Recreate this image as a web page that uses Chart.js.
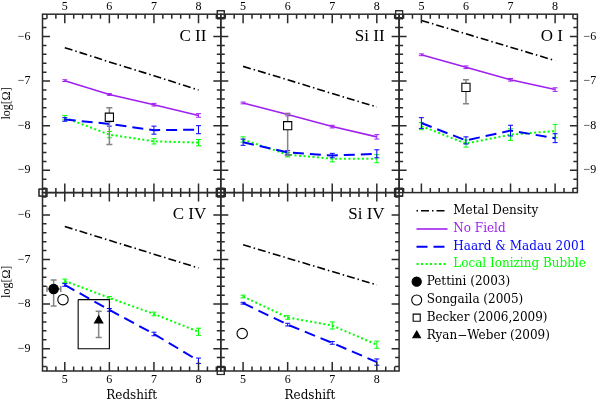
<!DOCTYPE html>
<html>
<head>
<meta charset="utf-8">
<title>Ion densities versus redshift</title>
<script src="https://cdn.jsdelivr.net/npm/chart.js@4.4.1/dist/chart.umd.min.js"></script>
<style>
  html, body { margin: 0; padding: 0; background: #ffffff; overflow: hidden; }
  #wrap { position: relative; width: 601px; height: 401px; background: #ffffff; }
  #wrap canvas { position: absolute; left: 0; top: 0; }
</style>
</head>
<body>
<div id="wrap">
  <canvas id="pCII" width="601" height="401"></canvas>
  <canvas id="pSiII" width="601" height="401"></canvas>
  <canvas id="pOI" width="601" height="401"></canvas>
  <canvas id="pCIV" width="601" height="401"></canvas>
  <canvas id="pSiIV" width="601" height="401"></canvas>
</div>
<script>
// ---------------- data ----------------
const redshift = [5, 6, 7, 8];
const xTickValues = [5, 6, 7, 8];
const xTickLabels = ['5', '6', '7', '8'];
const yTickValues = [-9, -8, -7, -6];
const yTickLabels = ['−9', '−8', '−7', '−6'];
const ionLabels = ['C II', 'Si II', 'O I', 'C IV', 'Si IV'];
const modelLabels = ['Metal Density', 'No Field', 'Haard & Madau 2001', 'Local Ionizing Bubble'];
const observationLabels = ['Pettini (2003)', 'Songaila (2005)', 'Becker (2006,2009)', 'Ryan−Weber (2009)'];

// C II
const metalCII = [-6.25, -6.57, -6.88, -7.20];
const noFieldCII = [-6.99, -7.30, -7.53, -7.77];
const noFieldErrCII = [0.02, 0.02, 0.03, 0.04];
const haardtCII = [-7.86, -7.96, -8.10, -8.09];
const haardtErrCII = [0.04, 0.05, 0.09, 0.09];
const bubbleCII = [-7.82, -8.20, -8.35, -8.38];
const bubbleErrCII = [0.05, 0.07, 0.06, 0.07];
// Si II
const metalSiII = [-6.67, -6.97, -7.28, -7.58];
const noFieldSiII = [-7.49, -7.75, -8.02, -8.25];
const noFieldErrSiII = [0.02, 0.03, 0.03, 0.05];
const haardtSiII = [-8.37, -8.60, -8.67, -8.63];
const haardtErrSiII = [0.07, 0.04, 0.05, 0.09];
const bubbleSiII = [-8.31, -8.65, -8.74, -8.74];
const bubbleErrSiII = [0.06, 0.05, 0.07, 0.09];
// O I
const metalOI = [-5.64, -5.94, -6.24, -6.54];
const noFieldOI = [-6.41, -6.69, -6.97, -7.19];
const noFieldErrOI = [0.02, 0.03, 0.03, 0.04];
const haardtOI = [-7.94, -8.33, -8.11, -8.28];
const haardtErrOI = [0.12, 0.08, 0.12, 0.10];
const bubbleOI = [-8.01, -8.40, -8.20, -8.12];
const bubbleErrOI = [0.08, 0.08, 0.13, 0.15];
// C IV
const metalCIV = [-6.26, -6.57, -6.88, -7.19];
const haardtCIV = [-7.57, -8.13, -8.67, -9.27];
const haardtErrCIV = [0.03, 0.03, 0.04, 0.06];
const bubbleCIV = [-7.48, -7.86, -8.22, -8.62];
const bubbleErrCIV = [0.04, 0.03, 0.04, 0.08];
// Si IV
const metalSiIV = [-6.67, -6.97, -7.27, -7.57];
const haardtSiIV = [-7.98, -8.46, -8.87, -9.30];
const haardtErrSiIV = [0.02, 0.03, 0.03, 0.07];
const bubbleSiIV = [-7.83, -8.30, -8.48, -8.91];
const bubbleErrSiIV = [0.03, 0.04, 0.08, 0.08];

// observations
const beckerRedshift = [6.0];
const beckerCII = [-7.81];
const beckerErrUpCII = [0.21];
const beckerErrDownCII = [0.61];
const beckerSiII = [-8.00];
const beckerErrUpSiII = [0.26];
const beckerErrDownSiII = [0.67];
const beckerOI = [-7.14];
const beckerErrUpOI = [0.17];
const beckerErrDownOI = [0.37];
const pettiniRedshift = [4.75];
const pettiniRedshiftLow = [4.60];
const pettiniRedshiftHigh = [4.91];
const pettiniCIV = [-7.66];
const pettiniErrUp = [0.20];
const pettiniErrDown = [0.38];
const songailaRedshiftCIV = [4.96];
const songailaCIV = [-7.90];
const songailaRedshiftSiIV = [4.98];
const songailaSiIV = [-8.66];
const ryanWeberRedshift = [5.76];
const ryanWeberCIV = [-8.37];
const ryanWeberErrUp = [0.21];
const ryanWeberErrDown = [0.38];
const ryanWeberBoxRedshift = [5.30, 6.00];
const ryanWeberBoxCIV = [-7.90, -9.00];

// ---------------- styles ----------------
const W = 601, H = 401;
const COLS = [42.5, 220.8, 399.1, 577.4];
const ROWS = [14.2, 192.6, 371];
const PURPLE = '#a020f0', BLUE = '#0000ff', GREEN = '#00ff00', OBS_GRAY = '#858585';
const FRAME = '#2a2a2a';
const TICK_FONT = { family: "'Liberation Serif', 'Times New Roman', serif", size: 12 };
const STYLE_METAL = { color: '#000000', dash: [8, 3, 1.5, 3], width: 1.6 };
const STYLE_NOFIELD = { color: PURPLE, dash: [], width: 1.6 };
const STYLE_HAARDT = { color: BLUE, dash: [11, 6], width: 2 };
const STYLE_BUBBLE = { color: GREEN, dash: [2, 2.5], width: 2 };

function model(values, errs, st) {
  return {
    data: redshift.map((z, i) => ({ x: z, y: values[i] })),
    borderColor: st.color, borderWidth: st.width, borderDash: st.dash,
    pointRadius: 0, fill: false, tension: 0,
    errUp: errs, errDown: errs, errColor: st.color, errWidth: 1, capHalf: 2.5
  };
}
function observation(xs, ys, pointStyle, radius, fillColor, up, down, extra) {
  return Object.assign({
    data: xs.map((z, i) => ({ x: z, y: ys[i] })),
    showLine: false, pointStyle: pointStyle, pointRadius: radius,
    pointBackgroundColor: fillColor, pointBorderColor: '#000000', pointBorderWidth: 1.1,
    errUp: up, errDown: down, errColor: OBS_GRAY, errWidth: 1.5, capHalf: 3, errBehind: true
  }, extra || {});
}

function drawErrors(chart, ds) {
  if (!ds.errUp && !ds.xLow) return;
  const { ctx } = chart;
  const xs = chart.scales.x, ys = chart.scales.y;
  ctx.save();
  ctx.strokeStyle = ds.errColor; ctx.lineWidth = ds.errWidth; ctx.setLineDash([]);
  ctx.beginPath();
  ds.data.forEach((p, i) => {
    const px = xs.getPixelForValue(p.x);
    const py = ys.getPixelForValue(p.y);
    const c = ds.capHalf;
    if (ds.errUp) {
      const y1 = ys.getPixelForValue(p.y + ds.errUp[i]);
      const y2 = ys.getPixelForValue(p.y - ds.errDown[i]);
      ctx.moveTo(px, y1); ctx.lineTo(px, y2);
      ctx.moveTo(px - c, y1); ctx.lineTo(px + c, y1);
      ctx.moveTo(px - c, y2); ctx.lineTo(px + c, y2);
    }
    if (ds.xLow) {
      const x1 = xs.getPixelForValue(ds.xLow[i]);
      const x2 = xs.getPixelForValue(ds.xHigh[i]);
      ctx.moveTo(x1, py); ctx.lineTo(x2, py);
      ctx.moveTo(x1, py - c); ctx.lineTo(x1, py + c);
      ctx.moveTo(x2, py - c); ctx.lineTo(x2, py + c);
    }
  });
  ctx.stroke();
  ctx.restore();
}

const errorBarPlugin = {
  id: 'errorBars',
  beforeDatasetDraw(chart, args) {
    const ds = chart.data.datasets[args.index];
    if (ds.errBehind) drawErrors(chart, ds);
  },
  afterDatasetDraw(chart, args) {
    const ds = chart.data.datasets[args.index];
    if (!ds.errBehind) drawErrors(chart, ds);
  }
};

const frameTicksPlugin = {
  id: 'frameTicks',
  afterDraw(chart, args, opts) {
    const { ctx, chartArea: a } = chart;
    const xs = chart.scales.x, ys = chart.scales.y;
    ctx.save();
    ctx.strokeStyle = FRAME; ctx.lineWidth = 1.5; ctx.setLineDash([]);
    ctx.beginPath();
    for (let k = Math.floor(xs.min * 5) + 1; k <= Math.ceil(xs.max * 5) - 1; k++) {
      const len = k % 5 === 0 ? 9 : 4.5;
      const px = xs.getPixelForValue(k / 5);
      ctx.moveTo(px, a.top); ctx.lineTo(px, a.top + len);
      ctx.moveTo(px, a.bottom); ctx.lineTo(px, a.bottom - len);
    }
    for (let k = Math.floor(ys.min * 5) + 1; k <= Math.ceil(ys.max * 5) - 1; k++) {
      const len = k % 5 === 0 ? 7.5 : 4;
      const py = ys.getPixelForValue(k / 5);
      ctx.moveTo(a.left, py); ctx.lineTo(a.left + len, py);
      ctx.moveTo(a.right, py); ctx.lineTo(a.right - len, py);
    }
    ctx.stroke();
    ctx.strokeRect(a.left, a.top, a.right - a.left, a.bottom - a.top);
    const cornerPos = { tl: [a.left, a.top], tr: [a.right, a.top], bl: [a.left, a.bottom], br: [a.right, a.bottom] };
    ctx.lineWidth = 1.1;
    (opts.corners || []).forEach(c => {
      const [cx, cy] = cornerPos[c];
      ctx.strokeRect(cx - 3.5, cy - 3.5, 7, 7);
    });
    ctx.fillStyle = '#000000';
    ctx.font = "17px 'Liberation Serif', 'Times New Roman', serif";
    ctx.textAlign = 'right'; ctx.textBaseline = 'alphabetic';
    ctx.fillText(opts.label, a.right - 14.5, a.top + 26.5);
    ctx.restore();
  }
};

const legendPlugin = {
  id: 'legendPanel',
  afterDraw(chart) {
    const ctx = chart.ctx;
    ctx.save();
    ctx.font = "12px 'DejaVu Serif', serif";
    ctx.textBaseline = 'middle'; ctx.textAlign = 'left';
    const styles = [STYLE_METAL, STYLE_NOFIELD, STYLE_HAARDT, STYLE_BUBBLE];
    const lineRows = [210.7, 229, 246.7, 264];
    styles.forEach((st, i) => {
      ctx.strokeStyle = st.color; ctx.lineWidth = st.width; ctx.setLineDash(st.dash);
      ctx.lineDashOffset = i === 0 ? 11 : 0;
      ctx.beginPath(); ctx.moveTo(416.5, lineRows[i]); ctx.lineTo(447.5, lineRows[i]); ctx.stroke();
      ctx.fillStyle = st.color;
      ctx.fillText(modelLabels[i], 453.3, lineRows[i]);
    });
    ctx.setLineDash([]); ctx.lineDashOffset = 0;
    const markers = [
      { pointStyle: 'circle', radius: 4.6, fill: '#000000' },
      { pointStyle: 'circle', radius: 5.0, fill: '#ffffff' },
      { pointStyle: 'rect', radius: 5.0, fill: '#ffffff' },
      { pointStyle: 'triangle', radius: 4.4, fill: '#000000' }
    ];
    const markerRows = [281.7, 300, 317.7, 335.5];
    markers.forEach((m, i) => {
      ctx.fillStyle = m.fill; ctx.strokeStyle = '#000000'; ctx.lineWidth = 1.1;
      Chart.helpers.drawPoint(ctx, { pointStyle: m.pointStyle, radius: m.radius, rotation: 0, borderWidth: 1.1 }, 416.7, markerRows[i]);
      ctx.fillStyle = '#000000';
      ctx.fillText(observationLabels[i], 426.7, markerRows[i]);
    });
    ctx.restore();
  }
};

function makePanel(canvasId, col, row, label, corners, datasets, extraPlugins) {
  const isTop = row === 0;
  const yPos = col === 0 ? 'left' : (col === 2 ? 'right' : null);
  return new Chart(document.getElementById(canvasId), {
    type: 'line',
    data: { datasets: datasets },
    options: {
      responsive: false, animation: false, events: [],
      layout: { padding: {
        left: col === 0 ? 0 : COLS[col],
        right: col === 2 ? 0 : W - COLS[col + 1],
        top: isTop ? 0 : ROWS[1],
        bottom: isTop ? H - ROWS[1] : 0
      } },
      scales: {
        x: {
          type: 'linear', position: isTop ? 'top' : 'bottom', min: 4.5, max: 8.5,
          afterBuildTicks: s => { s.ticks = xTickValues.map(v => ({ value: v })); },
          afterFit: s => { s.height = isTop ? ROWS[0] : H - ROWS[2]; s.paddingLeft = 0; s.paddingRight = 0; },
          ticks: { callback: (v, i) => xTickLabels[i], color: '#000000', font: TICK_FONT,
                   padding: isTop ? 0.5 : 2, maxRotation: 0, minRotation: 0, autoSkip: false },
          grid: { display: false, drawTicks: false }, border: { display: false },
          title: { display: !isTop, text: 'Redshift', color: '#000000',
                   font: { family: "'DejaVu Serif', serif", size: 12, lineHeight: 0.85 }, padding: 0 }
        },
        y: {
          type: 'linear', display: yPos !== null, position: yPos || 'left', min: -9.5, max: -5.5,
          afterBuildTicks: s => { s.ticks = yTickValues.map(v => ({ value: v })); },
          afterFit: s => {
            s.width = col === 0 ? COLS[0] : (col === 2 ? W - COLS[3] : 0);
            s.paddingTop = 0; s.paddingBottom = 0;
          },
          ticks: { callback: (v, i) => yTickLabels[i], color: '#000000', font: TICK_FONT,
                   padding: col === 0 ? 12 : 6, autoSkip: false },
          grid: { display: false, drawTicks: false }, border: { display: false },
          title: { display: col === 0, text: 'log[Ω]', color: '#000000',
                   font: { family: "'Liberation Serif', serif", size: 12, lineHeight: 1.1 }, padding: 0 }
        }
      },
      plugins: {
        legend: { display: false }, tooltip: { enabled: false },
        frameTicks: { label: label, corners: corners }
      }
    },
    plugins: [errorBarPlugin, frameTicksPlugin].concat(extraPlugins || [])
  });
}

// C II
makePanel('pCII', 0, 0, ionLabels[0], ['tr', 'bl', 'br'], [
  observation(beckerRedshift, beckerCII, 'rect', 5.8, '#ffffff', beckerErrUpCII, beckerErrDownCII),
  model(metalCII, null, STYLE_METAL),
  model(noFieldCII, noFieldErrCII, STYLE_NOFIELD),
  model(haardtCII, haardtErrCII, STYLE_HAARDT),
  model(bubbleCII, bubbleErrCII, STYLE_BUBBLE)
]);
// Si II
makePanel('pSiII', 1, 0, ionLabels[1], ['tl', 'tr', 'bl', 'br'], [
  observation(beckerRedshift, beckerSiII, 'rect', 5.8, '#ffffff', beckerErrUpSiII, beckerErrDownSiII),
  model(metalSiII, null, STYLE_METAL),
  model(noFieldSiII, noFieldErrSiII, STYLE_NOFIELD),
  model(haardtSiII, haardtErrSiII, STYLE_HAARDT),
  model(bubbleSiII, bubbleErrSiII, STYLE_BUBBLE)
]);
// O I
makePanel('pOI', 2, 0, ionLabels[2], ['tl', 'bl'], [
  observation(beckerRedshift, beckerOI, 'rect', 5.8, '#ffffff', beckerErrUpOI, beckerErrDownOI),
  model(metalOI, null, STYLE_METAL),
  model(noFieldOI, noFieldErrOI, STYLE_NOFIELD),
  model(haardtOI, haardtErrOI, STYLE_HAARDT),
  model(bubbleOI, bubbleErrOI, STYLE_BUBBLE)
]);
// C IV
makePanel('pCIV', 0, 1, ionLabels[3], ['tl', 'tr', 'br'], [
  observation(pettiniRedshift, pettiniCIV, 'circle', 4.7, '#000000', pettiniErrUp, pettiniErrDown,
              { xLow: pettiniRedshiftLow, xHigh: pettiniRedshiftHigh }),
  observation(songailaRedshiftCIV, songailaCIV, 'circle', 5.2, '#ffffff', null, null),
  observation(ryanWeberRedshift, ryanWeberCIV, 'triangle', 4.8, '#000000', ryanWeberErrUp, ryanWeberErrDown),
  {
    data: [
      { x: ryanWeberBoxRedshift[0], y: ryanWeberBoxCIV[0] },
      { x: ryanWeberBoxRedshift[1], y: ryanWeberBoxCIV[0] },
      { x: ryanWeberBoxRedshift[1], y: ryanWeberBoxCIV[1] },
      { x: ryanWeberBoxRedshift[0], y: ryanWeberBoxCIV[1] },
      { x: ryanWeberBoxRedshift[0], y: ryanWeberBoxCIV[0] }
    ],
    borderColor: '#000000', borderWidth: 1.1, borderDash: [1000, 0], pointRadius: 0, fill: false
  },
  model(metalCIV, null, STYLE_METAL),
  model(haardtCIV, haardtErrCIV, STYLE_HAARDT),
  model(bubbleCIV, bubbleErrCIV, STYLE_BUBBLE)
]);
// Si IV
makePanel('pSiIV', 1, 1, ionLabels[4], ['tl', 'tr', 'bl'], [
  observation(songailaRedshiftSiIV, songailaSiIV, 'circle', 5.2, '#ffffff', null, null),
  model(metalSiIV, null, STYLE_METAL),
  model(haardtSiIV, haardtErrSiIV, STYLE_HAARDT),
  model(bubbleSiIV, bubbleErrSiIV, STYLE_BUBBLE)
], [legendPlugin]);
</script>
</body>
</html>
